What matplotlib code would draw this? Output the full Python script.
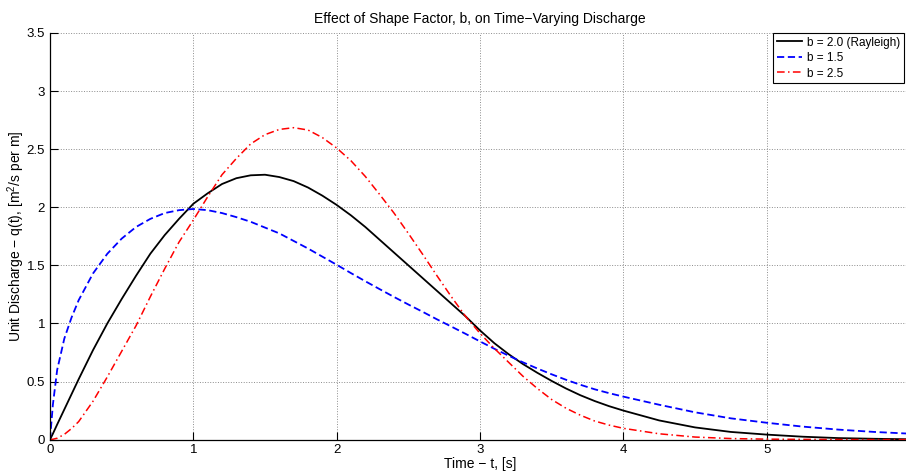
import matplotlib
matplotlib.use('Agg')
import matplotlib.pyplot as plt

plt.rcParams['font.family'] = ['Liberation Sans', 'DejaVu Sans']
plt.rcParams['mathtext.fontset'] = 'custom'
plt.rcParams['mathtext.rm'] = 'Liberation Sans'

# time axis [s]
t = [0, 0.02, 0.05, 0.1, 0.15,
     0.2, 0.3, 0.4, 0.5, 0.6, 0.7, 0.8, 0.9, 1.0,
     1.1, 1.2, 1.3, 1.4, 1.5, 1.6, 1.7, 1.8, 1.9, 2.0,
     2.1, 2.2, 2.3, 2.4, 2.5, 2.6, 2.7, 2.8, 2.9, 3.0,
     3.1, 3.2, 3.3, 3.4, 3.5, 3.6, 3.7, 3.8, 3.9, 4.0,
     4.25, 4.5, 4.75, 5.0, 5.25, 5.5, 5.75, 6.0]

# b = 2.0 (Rayleigh)
q_b20 = [0, 0.05, 0.13, 0.26, 0.39,
         0.52, 0.77, 1.0, 1.21, 1.41, 1.60, 1.76, 1.90, 2.03,
         2.12, 2.20, 2.25, 2.275, 2.28, 2.26, 2.225, 2.17, 2.10, 2.02,
         1.93, 1.83, 1.72, 1.61, 1.50, 1.39, 1.28, 1.17, 1.06, 0.94,
         0.83, 0.735, 0.65, 0.575, 0.505, 0.44, 0.382, 0.332, 0.288, 0.25,
         0.165, 0.105, 0.066, 0.043, 0.025, 0.013, 0.007, 0.003]

# b = 1.5
q_b15 = [0, 0.30, 0.60, 0.87, 1.05,
         1.20, 1.43, 1.60, 1.73, 1.83, 1.90, 1.95, 1.975, 1.985,
         1.975, 1.95, 1.915, 1.875, 1.825, 1.775, 1.71, 1.645, 1.575, 1.505,
         1.433, 1.363, 1.295, 1.228, 1.163, 1.10, 1.035, 0.973, 0.91, 0.845,
         0.782, 0.722, 0.665, 0.612, 0.562, 0.515, 0.472, 0.433, 0.40, 0.37,
         0.30, 0.235, 0.183, 0.145, 0.112, 0.086, 0.066, 0.051]

# b = 2.5
q_b25 = [0, 0.003, 0.012, 0.045, 0.095,
         0.155, 0.33, 0.54, 0.76, 0.98, 1.23, 1.47, 1.70, 1.89,
         2.09, 2.28, 2.42, 2.545, 2.625, 2.67, 2.685, 2.665, 2.60, 2.51,
         2.40, 2.265, 2.11, 1.95, 1.775, 1.595, 1.41, 1.23, 1.06, 0.915,
         0.785, 0.665, 0.545, 0.44, 0.345, 0.27, 0.21, 0.16, 0.125, 0.097,
         0.05, 0.022, 0.009, 0.004, 0.002, 0.001, 0.0, 0.0]

fig = plt.figure(figsize=(9.06, 4.75), dpi=100)
ax = fig.add_axes([50 / 906, 35.4 / 475, 860 / 906, 406.6 / 475])

ax.plot(t, q_b20, color='k', lw=1.3, label='b = 2.0 (Rayleigh)')
ax.plot(t, q_b15, color='b', lw=1.3, linestyle=(0, (4, 2)), label='b = 1.5')
ax.plot(t, q_b25, color='r', lw=1.1, linestyle=(0, (5, 2.2, 1, 2.2)), label='b = 2.5')

ax.set_xlim(0, 6)
ax.set_ylim(0, 3.5)
ax.set_xticks([0, 1, 2, 3, 4, 5])
ax.set_yticks([0, 0.5, 1, 1.5, 2, 2.5, 3, 3.5])
ax.set_yticklabels(['0', '0.5', '1', '1.5', '2', '2.5', '3', '3.5'])
ax.tick_params(direction='in', length=6, width=0.8, labelsize=9.5, colors='k')
ax.tick_params(axis='y', pad=3.5)
ax.tick_params(axis='x', pad=3)
ax.grid(True, linestyle=':', color='0.55', linewidth=0.7)

ax.spines['top'].set_visible(False)
ax.spines['right'].set_visible(False)
ax.spines['left'].set_linewidth(0.9)
ax.spines['bottom'].set_linewidth(0.9)

ax.set_title('Effect of Shape Factor, b, on Time\u2212Varying Discharge', fontsize=10, pad=7)
ax.set_xlabel('Time \u2212 t, [s]', fontsize=10, labelpad=1)
ax.set_ylabel('Unit Discharge \u2212 q(t), [m$^2$/s per m]', fontsize=10)
ax.yaxis.set_label_coords(-0.027, 0.5)

leg = ax.legend(loc='upper right', bbox_to_anchor=(904 / 906, 442 / 475),
                bbox_transform=fig.transFigure, borderaxespad=0,
                fancybox=False, edgecolor='k', framealpha=1, fontsize=8.5,
                handlelength=2.2, handletextpad=0.4, labelspacing=0.3,
                borderpad=0.3)
leg.get_frame().set_linewidth(0.8)

fig.savefig('out.png', dpi=100)
